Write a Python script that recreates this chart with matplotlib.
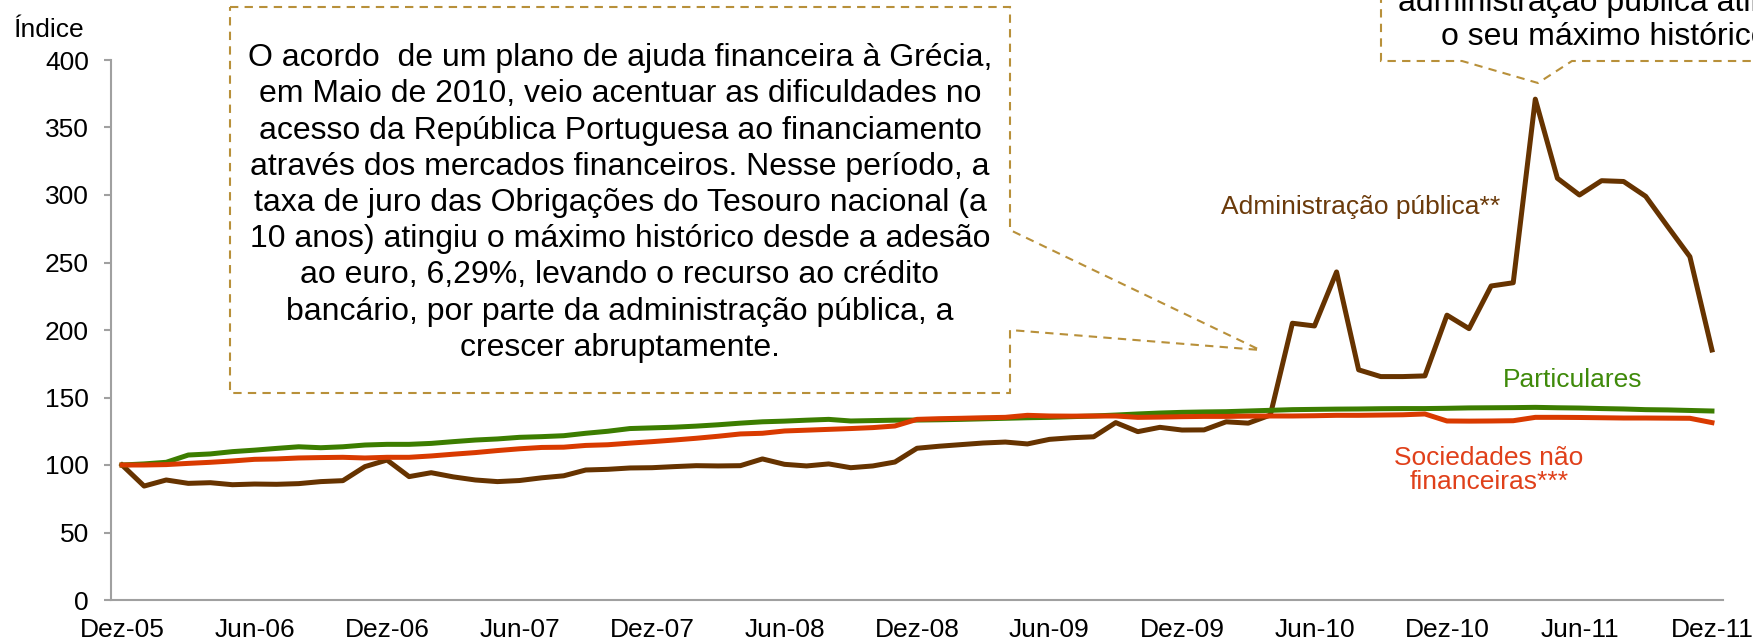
import matplotlib
matplotlib.use("Agg")
import matplotlib.pyplot as plt
from matplotlib.patches import Polygon

plt.rcParams['font.family'] = ['Liberation Sans', 'DejaVu Sans']

# monthly index, Dez-05 = 100
admin_publica = [
    100, 84.4, 88.9, 86.4, 86.9, 85.4, 85.9, 85.7, 86.2, 87.7, 88.4, 98.8,
    103.7, 91.4, 94.3, 91.2, 88.9, 87.7, 88.5, 90.5, 92.0, 96.3, 96.8, 97.8,
    98.0, 98.8, 99.5, 99.3, 99.5, 104.5, 100.5, 99.3, 100.8, 98.0, 99.3, 102.2,
    112.4, 113.9, 115.1, 116.3, 117.0, 115.6, 119.0, 120.2, 120.9, 131.4, 124.7, 127.9,
    125.9, 126.0, 132.0, 131.0, 137.0, 205.0, 203.0, 243.0, 170.5, 165.5, 165.5, 166.0,
    211.0, 201.0, 232.6, 235.0, 371.0, 312.4, 300.0, 310.6, 310.0, 299.0, 276.5, 254.3,
    185.2]
particulares = [
    100, 100.8, 102.0, 107.4, 108.2, 109.9, 111.0, 112.3, 113.5, 112.8, 113.5, 114.8,
    115.3, 115.3, 116.0, 117.3, 118.5, 119.3, 120.5, 121.0, 121.7, 123.5, 125.0, 127.0,
    127.5, 128.0, 128.8, 129.8, 131.0, 132.0, 132.5, 133.2, 133.8, 132.6, 132.9, 133.2,
    133.3, 133.5, 133.8, 134.2, 134.6, 135.0, 135.3, 135.8, 136.3, 137.0, 137.8, 138.5,
    139.0, 139.3, 139.5, 140.0, 140.5, 141.0, 141.2, 141.4, 141.5, 141.7, 141.8, 141.8,
    142.0, 142.3, 142.4, 142.5, 142.7, 142.4, 142.2, 141.8, 141.5, 141.0, 140.8, 140.4,
    140.0]
sociedades = [
    100, 100.0, 100.3, 101.2, 102.0, 103.0, 104.2, 104.5, 105.2, 105.5, 105.7, 105.2,
    105.7, 105.7, 106.7, 108.0, 109.2, 110.7, 112.0, 113.0, 113.2, 114.5, 115.0, 116.2,
    117.3, 118.5, 119.8, 121.3, 123.0, 123.5, 125.2, 125.8, 126.4, 127.0, 127.7, 128.9,
    133.8, 134.3, 134.6, 135.0, 135.3, 136.8, 136.3, 136.2, 136.3, 136.3, 135.3, 135.5,
    135.8, 136.0, 136.0, 136.2, 136.3, 136.3, 136.5, 136.8, 136.8, 137.0, 137.2, 137.8,
    132.6, 132.5, 132.6, 132.8, 135.3, 135.3, 135.2, 135.0, 134.8, 134.8, 134.7, 134.6,
    131.4]
tick_labels = ['Dez-05', 'Jun-06', 'Dez-06', 'Jun-07', 'Dez-07', 'Jun-08', 'Dez-08',
               'Jun-09', 'Dez-09', 'Jun-10', 'Dez-10', 'Jun-11', 'Dez-11']

months = list(range(len(admin_publica)))

W, H = 1753, 643
fig = plt.figure(figsize=(W / 100, H / 100), dpi=100)
ax = fig.add_axes([111 / W, 1 - 600 / H, (1723 - 111) / W, 540 / H])

brown, green, red = '#663300', '#3C7D00', '#D93A00'
ax.plot(months, admin_publica, color=brown, lw=3.6, solid_joinstyle='round')
ax.plot(months, particulares, color=green, lw=3.6)
ax.plot(months, sociedades, color=red, lw=3.6)

ax.set_xlim(-0.5, 72.5)
ax.set_ylim(0, 400)
ax.set_yticks(range(0, 401, 50))
ax.set_xticks(range(0, 73, 6))
ax.set_xticklabels(tick_labels)
for s in ['top', 'right']:
    ax.spines[s].set_visible(False)
for s in ['left', 'bottom']:
    ax.spines[s].set_color('#A0A0A0')
    ax.spines[s].set_linewidth(1.5)
ax.tick_params(axis='y', length=5, width=1.5, color='#A0A0A0', labelsize=19, pad=11)
ax.tick_params(axis='x', length=0, labelsize=19, pad=13)

def px(x, y):
    return (x / W, 1 - y / H)

fig.text(*px(13, 30), 'Índice', fontsize=19, va='center', ha='left')

ax.text(56.1, 291, 'Administração pública**', color='#6B3A0A', fontsize=19,
        ha='center', va='center')
ax.text(65.7, 163, 'Particulares', color='#3F8A0A', fontsize=19,
        ha='center', va='center')
ax.text(61.9, 96, 'Sociedades não\nfinanceiras***', color='#E0401A', fontsize=19,
        ha='center', va='center', linespacing=1.0)

gold = '#B8903A'
box1 = [px(230, 7), px(1010, 7), px(1010, 230), px(1260, 350), px(1010, 330),
        px(1010, 393), px(230, 393)]
box2 = [px(1381, -20), px(1381, 61), px(1462, 61), px(1538, 83), px(1572, 61),
        px(1800, 61), px(1800, -20)]
for pts in (box1, box2):
    fig.patches.append(Polygon(pts, closed=True, transform=fig.transFigure,
                               facecolor='white', edgecolor=gold, lw=1.5,
                               ls=(0, (4, 3)), zorder=5))

note = ("O acordo  de um plano de ajuda financeira à Grécia,\n"
        "em Maio de 2010, veio acentuar as dificuldades no\n"
        "acesso da República Portuguesa ao financiamento\n"
        "através dos mercados financeiros. Nesse período, a\n"
        "taxa de juro das Obrigações do Tesouro nacional (a\n"
        "10 anos) atingiu o máximo histórico desde a adesão\n"
        "ao euro, 6,29%, levando o recurso ao crédito\n"
        "bancário, por parte da administração pública, a\n"
        "crescer abruptamente.")
fig.text(*px(620, 203), note, fontsize=23, ha='center', va='center',
         linespacing=1.27, zorder=6)
fig.text(*px(1605, 11), 'administração pública atingiu', fontsize=23,
         ha='center', va='baseline', zorder=6)
fig.text(*px(1605, 45), 'o seu máximo histórico', fontsize=23,
         ha='center', va='baseline', zorder=6)

fig.savefig('out.png', dpi=100)
